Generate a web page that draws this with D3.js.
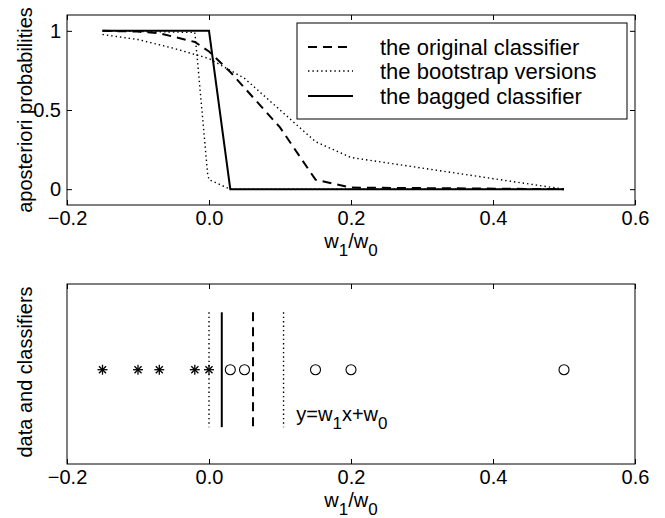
<!DOCTYPE html>
<html>
<head>
<meta charset="utf-8">
<script src="https://cdn.jsdelivr.net/npm/d3@7"></script>
<style>
  body { margin: 0; background: #fff; }
  text { font-family: "Liberation Sans", Arial, Helvetica, sans-serif; fill: #000; }
</style>
</head>
<body>
<div id="chart"></div>
<script>
// ticks
const xTicks = [-0.2, 0, 0.2, 0.4, 0.6]
const yTicks = [0, 0.5, 1]

// top panel: a posteriori probabilities
const originalX = [-0.15, -0.1, -0.07, -0.02, 0, 0.03, 0.05, 0.1, 0.15, 0.2, 0.5]
const originalY = [1, 0.995, 0.985, 0.93, 0.87, 0.74, 0.64, 0.39, 0.06, 0.01, 0]
const bootShallowX = [-0.15, -0.1, -0.05, 0, 0.05, 0.1, 0.15, 0.2, 0.5]
const bootShallowY = [0.977, 0.945, 0.89, 0.825, 0.7, 0.5, 0.3, 0.2, 0]
const bootSteepX = [-0.15, -0.02, -0.016, -0.01, -0.005, -0.002, 0, 0.03, 0.5]
const bootSteepY = [1, 0.99, 0.8, 0.5, 0.25, 0.1, 0.06, 0, 0]
const baggedX = [-0.15, 0, 0.03, 0.5]
const baggedY = [1, 1, 0, 0]

const legendLabels = ["the original classifier", "the bootstrap versions", "the bagged classifier"]

// bottom panel: data and classifiers
const classA = [-0.15, -0.1, -0.07, -0.02, 0]
const classB = [0.03, 0.05, 0.15, 0.2, 0.5]
const originalBoundary = [0.062]
const bootBoundaries = [0, 0.105]
const baggedBoundary = [0.018]

const W = 665, H = 518
const left = 67, right = 635

const svg = d3.select("#chart").append("svg")
  .attr("width", W)
  .attr("height", H)

const x = d3.scaleLinear().domain([-0.2, 0.6]).range([left, right])
const yTop = d3.scaleLinear().domain([-0.1, 1.1]).range([205, 15])
const yBot = d3.scaleLinear().domain([-1.1, 1.0]).range([464, 284])

const styles = {
  dashed: { width: 2, dash: "9,6" },
  dotted: { width: 1.4, dash: "1.4,3" },
  solid: { width: 2, dash: null }
}

function frame(y) {
  svg.append("rect")
    .attr("x", left).attr("y", y.range()[1])
    .attr("width", right - left).attr("height", y.range()[0] - y.range()[1])
    .attr("fill", "none").attr("stroke", "#000").attr("stroke-width", 1)
}

function xAxes(y) {
  const bottom = svg.append("g")
    .attr("transform", `translate(0,${y.range()[0]})`)
    .call(d3.axisBottom(x).tickValues(xTicks).tickSizeInner(-5).tickSizeOuter(0).tickPadding(6))
  const top = svg.append("g")
    .attr("transform", `translate(0,${y.range()[1]})`)
    .call(d3.axisTop(x).tickValues(xTicks).tickSizeInner(-5).tickSizeOuter(0).tickFormat(""))
  ;[bottom, top].forEach(g => {
    g.select(".domain").remove()
    g.selectAll("text").attr("font-size", 20).attr("font-family", null)
  })
}

// ---------- top panel ----------
frame(yTop)
xAxes(yTop)

const yl = svg.append("g")
  .attr("transform", `translate(${left},0)`)
  .call(d3.axisLeft(yTop).tickValues(yTicks).tickSizeInner(-5).tickSizeOuter(0).tickPadding(6)
    .tickFormat(d3.format("")))
yl.select(".domain").remove()
yl.selectAll("text").attr("font-size", 20).attr("font-family", null)
const yr = svg.append("g")
  .attr("transform", `translate(${right},0)`)
  .call(d3.axisRight(yTop).tickValues(yTicks).tickSizeInner(-5).tickSizeOuter(0).tickFormat(""))
yr.select(".domain").remove()

const line = d3.line().x(d => x(d[0])).y(d => yTop(d[1]))
const curves = [
  { xs: bootShallowX, ys: bootShallowY, s: styles.dotted },
  { xs: bootSteepX, ys: bootSteepY, s: styles.dotted },
  { xs: originalX, ys: originalY, s: styles.dashed },
  { xs: baggedX, ys: baggedY, s: styles.solid }
]
svg.append("g").selectAll("path")
  .data(curves)
  .join("path")
  .attr("d", c => line(d3.zip(c.xs, c.ys)))
  .attr("fill", "none")
  .attr("stroke", "#000")
  .attr("stroke-width", c => c.s.width)
  .attr("stroke-dasharray", c => c.s.dash)

// legend
const lg = svg.append("g")
lg.append("rect")
  .attr("x", 297).attr("y", 23).attr("width", 330).attr("height", 96)
  .attr("fill", "#fff").attr("stroke", "#000").attr("stroke-width", 1)
const legendStyles = [styles.dashed, styles.dotted, styles.solid]
const legendY = [47, 71, 96]
legendLabels.forEach((label, i) => {
  lg.append("line")
    .attr("x1", 308).attr("x2", 353)
    .attr("y1", legendY[i]).attr("y2", legendY[i])
    .attr("stroke", "#000")
    .attr("stroke-width", legendStyles[i].width)
    .attr("stroke-dasharray", legendStyles[i].dash)
  lg.append("text")
    .attr("x", 380).attr("y", legendY[i] + 8)
    .attr("font-size", 22)
    .text(label)
})

// axis labels
function wLabel(yBase) {
  const t = svg.append("text")
    .attr("x", (left + right) / 2).attr("y", yBase)
    .attr("text-anchor", "middle").attr("font-size", 20)
  t.append("tspan").text("w")
  t.append("tspan").attr("dy", 8).attr("font-size", 17).text("1")
  t.append("tspan").attr("dy", -8).text("/w")
  t.append("tspan").attr("dy", 8).attr("font-size", 17).text("0")
}
wLabel(248)

svg.append("text")
  .attr("transform", `translate(32,${(15 + 205) / 2}) rotate(-90)`)
  .attr("text-anchor", "middle").attr("font-size", 20)
  .text("aposteriori probabilities")

// ---------- bottom panel ----------
frame(yBot)
xAxes(yBot)
wLabel(507)

svg.append("text")
  .attr("transform", `translate(32,${(284 + 464) / 2 - 2}) rotate(-90)`)
  .attr("text-anchor", "middle").attr("font-size", 20)
  .text("data and classifiers")

const boundaries = [
  ...bootBoundaries.map(v => ({ v, s: styles.dotted })),
  ...originalBoundary.map(v => ({ v, s: styles.dashed })),
  ...baggedBoundary.map(v => ({ v, s: styles.solid }))
]
svg.append("g").selectAll("line")
  .data(boundaries)
  .join("line")
  .attr("x1", d => x(d.v)).attr("x2", d => x(d.v))
  .attr("y1", yBot(0.67)).attr("y2", yBot(-0.67))
  .attr("stroke", "#000")
  .attr("stroke-width", d => d.s.width)
  .attr("stroke-dasharray", d => d.s.dash)

// stars
const star = svg.append("g").selectAll("g")
  .data(classA)
  .join("g")
  .attr("transform", d => `translate(${x(d)},${yBot(0)})`)
star.each(function () {
  const g = d3.select(this)
  const r = 5
  ;[0, 45, 90, 135].forEach(a => {
    const rad = a * Math.PI / 180
    g.append("line")
      .attr("x1", -r * Math.cos(rad)).attr("y1", -r * Math.sin(rad))
      .attr("x2", r * Math.cos(rad)).attr("y2", r * Math.sin(rad))
      .attr("stroke", "#000").attr("stroke-width", 1.3)
  })
})

// circles
svg.append("g").selectAll("circle")
  .data(classB)
  .join("circle")
  .attr("cx", d => x(d)).attr("cy", yBot(0))
  .attr("r", 5)
  .attr("fill", "none").attr("stroke", "#000").attr("stroke-width", 1.1)

// boundary equation
const eq = svg.append("text")
  .attr("x", x(0.123)).attr("y", yBot(-0.6))
  .attr("font-size", 20)
eq.append("tspan").text("y=w")
eq.append("tspan").attr("dy", 8).attr("font-size", 17).text("1")
eq.append("tspan").attr("dy", -8).text("x+w")
eq.append("tspan").attr("dy", 8).attr("font-size", 17).text("0")
</script>
</body>
</html>
